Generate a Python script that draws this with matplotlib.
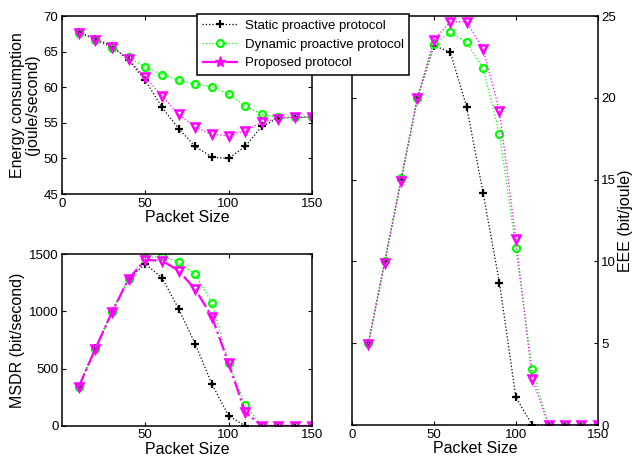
import matplotlib
matplotlib.use("Agg")
import matplotlib.pyplot as plt
from matplotlib.lines import Line2D

plt.rcParams['font.family'] = ['Liberation Sans', 'DejaVu Sans']

# packet sizes
packet = [10, 20, 30, 40, 50, 60, 70, 80, 90, 100, 110, 120, 130, 140, 150]

# energy consumption (joule/second)
energy_static = [67.8, 66.8, 65.8, 63.8, 61.0, 57.2, 54.2, 51.7, 50.2, 50.0, 51.7, 54.5, 55.7, 55.8, 55.8]
energy_dynamic = [67.6, 66.7, 65.5, 64.2, 62.8, 61.8, 61.0, 60.4, 60.1, 59.0, 57.4, 56.2, 55.8, 55.8, 55.8]
energy_proposed = [67.7, 66.7, 65.6, 64.0, 61.4, 58.8, 56.2, 54.4, 53.4, 53.2, 53.9, 55.1, 55.6, 55.8, 55.8]

# MSDR (bit/second)
msdr_static = [343, 677, 997, 1285, 1413, 1294, 1023, 715, 366, 90, 0, 0, 0, 0, 0]
msdr_dynamic = [340, 670, 990, 1285, 1465, 1483, 1427, 1323, 1076, 552, 186, 0, 0, 0, 0]
msdr_proposed = [340, 672, 992, 1285, 1448, 1442, 1355, 1192, 953, 547, 122, 0, 0, 0, 0]

# EEE (bit/joule)
eee_static = [5.0, 10.0, 15.0, 20.0, 23.2, 22.8, 19.45, 14.2, 8.7, 1.7, 0, 0, 0, 0, 0]
eee_dynamic = [5.0, 10.0, 15.1, 20.0, 23.3, 24.0, 23.4, 21.8, 17.8, 10.8, 3.4, 0, 0, 0, 0]
eee_proposed = [4.95, 9.9, 14.95, 20.0, 23.55, 24.65, 24.65, 23.0, 19.2, 11.35, 2.8, 0, 0, 0, 0]

labels = ["Static proactive protocol", "Dynamic proactive protocol", "Proposed protocol"]

GREEN = (0, 1, 0)
MAG = (1, 0, 1)


def draw(ax, s, d, p, prop_ls):
    ax.plot(packet, s, ls=':', color='k', lw=0.9, marker='+', ms=5.5, mew=1.6)
    ax.plot(packet, d, ls=':', color=GREEN, lw=0.9, marker='o', ms=5, mfc='none', mew=1.6)
    ax.plot(packet, p, ls=prop_ls, color=MAG, lw=1.6 if prop_ls == '-.' else 0.9,
            marker='v', ms=5.5, mfc='none', mew=1.8)
    ax.tick_params(direction='in', top=True, right=True, labelsize=9.5, length=3, pad=2.5)
    for sp in ax.spines.values():
        sp.set_linewidth(1.1)


fig = plt.figure(figsize=(6.34, 4.61), dpi=100)

ax1 = fig.add_axes([0.0978, 0.579, 0.394, 0.386])
draw(ax1, energy_static, energy_dynamic, energy_proposed, ':')
ax1.set_xlim(0, 150)
ax1.set_ylim(45, 70)
ax1.set_xticks([0, 50, 100, 150])
ax1.set_yticks([45, 50, 55, 60, 65, 70])
ax1.set_xlabel("Packet Size", fontsize=11.5, labelpad=0.5)
ax1.set_ylabel("Energy consumption\n(joule/second)", fontsize=11.5, labelpad=3, linespacing=1.0)

ax2 = fig.add_axes([0.0978, 0.076, 0.394, 0.373])
draw(ax2, msdr_static, msdr_dynamic, msdr_proposed, '-.')
ax2.set_xlim(0, 150)
ax2.set_ylim(0, 1500)
ax2.set_xticks([50, 100, 150])
ax2.set_yticks([0, 500, 1000, 1500])
ax2.set_xlabel("Packet Size", fontsize=11.5, labelpad=0.5)
ax2.set_ylabel("MSDR (bit/second)", fontsize=11.5, labelpad=3)

ax3 = fig.add_axes([0.555, 0.078, 0.388, 0.887])
draw(ax3, eee_static, eee_dynamic, eee_proposed, ':')
ax3.set_xlim(0, 150)
ax3.set_ylim(0, 25)
ax3.set_xticks([0, 50, 100, 150])
ax3.set_yticks([0, 5, 10, 15, 20, 25])
ax3.yaxis.tick_right()
ax3.yaxis.set_label_position('right')
ax3.tick_params(left=True, labelleft=False, labelright=True)
ax3.set_xlabel("Packet Size", fontsize=11.5, labelpad=0.5)
ax3.set_ylabel("EEE (bit/joule)", fontsize=11.5, labelpad=1)

handles = [
    Line2D([], [], ls=':', color='k', lw=0.9, marker='+', ms=5.5, mew=1.6),
    Line2D([], [], ls=':', color=GREEN, lw=0.9, marker='o', ms=5, mfc='none', mew=1.6),
    Line2D([], [], ls='-.', color=MAG, lw=1.6, marker='*', ms=8, mec=MAG, mfc=MAG),
]
leg = fig.legend(handles, labels, loc='upper left', bbox_to_anchor=(0.311, 0.969),
                 fontsize=9.5, fancybox=False, framealpha=1, edgecolor='k',
                 handlelength=2.7, borderpad=0.4, labelspacing=0.5, handletextpad=0.5,
                 borderaxespad=0)
leg.get_frame().set_linewidth(1.1)

fig.savefig("out.png", dpi=100)
